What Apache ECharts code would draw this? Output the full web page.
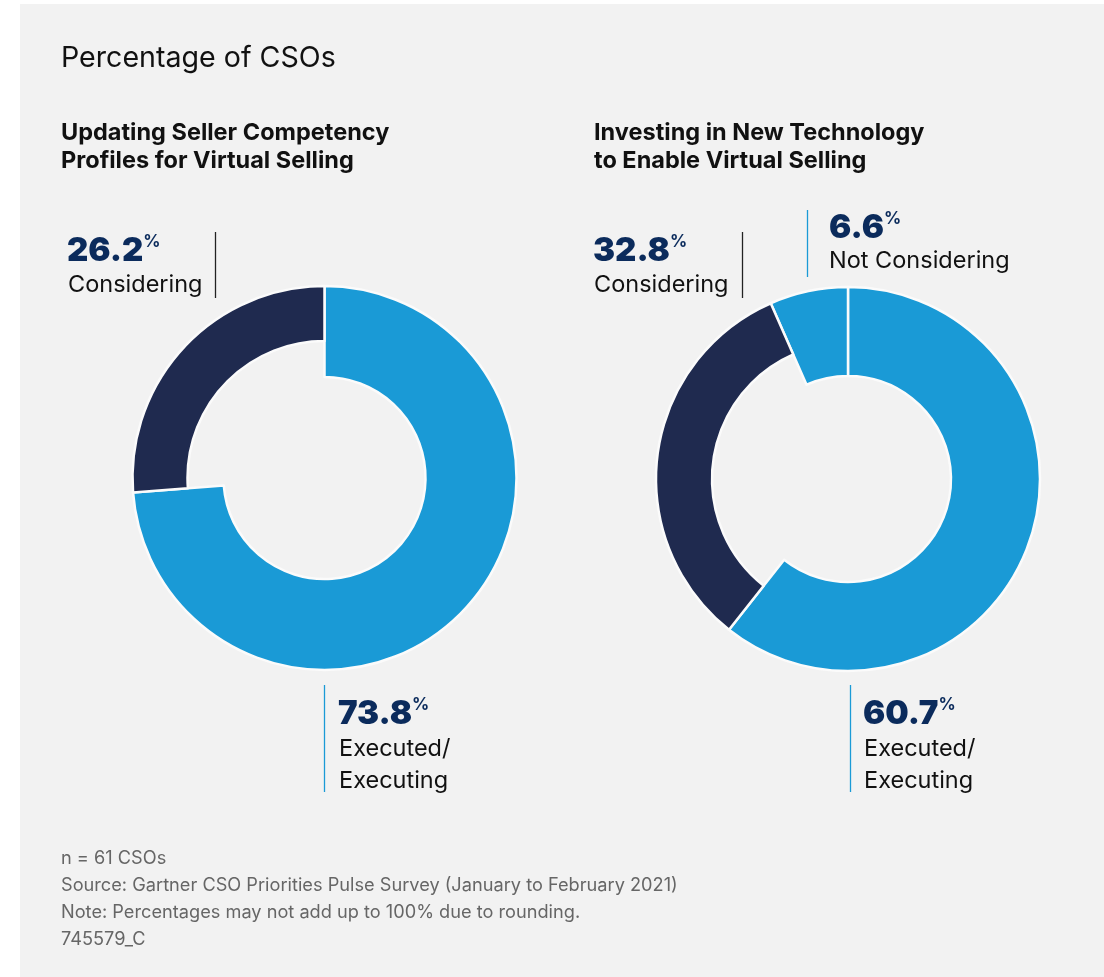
<!DOCTYPE html>
<html>
<head>
<meta charset="utf-8">
<script src="https://cdn.jsdelivr.net/npm/echarts@6/dist/echarts.min.js"></script>
<style>
html,body{margin:0;padding:0;background:#ffffff;}
#panel{position:absolute;left:20px;top:4px;width:1084px;height:973px;background:#f2f2f2;}
#chart{position:absolute;left:0;top:0;width:1104px;height:977px;}
</style>
</head>
<body>
<div id="panel"></div>
<div id="chart"></div>
<script>
// ---- data ----
const chartTitle = 'Percentage of CSOs';
const leftTitle = ['Updating Seller Competency', 'Profiles for Virtual Selling'];
const rightTitle = ['Investing in New Technology', 'to Enable Virtual Selling'];
const leftCategories = ['Executed/ Executing', 'Considering'];
const leftValues = [73.8, 26.2];
const rightCategories = ['Executed/ Executing', 'Considering', 'Not Considering'];
const rightValues = [60.7, 32.8, 6.6];
const footerLines = [
  'n = 61 CSOs',
  'Source: Gartner CSO Priorities Pulse Survey (January to February 2021)',
  'Note: Percentages may not add up to 100% due to rounding.',
  '745579_C'
];

const BLUE = '#1a9ad6';
const NAVY = '#1f2a4f';
const NUM = '#0b2b5c';
const FONT = 'Inter, "Noto Sans", sans-serif';
const GAP = '#fbfbfb';

function ringSeries(center, cats, vals, inner, show) {
  return {
    type: 'pie',
    center: center,
    radius: [inner, 192],
    startAngle: 90,
    clockwise: true,
    silent: true,
    avoidLabelOverlap: false,
    label: {show: false},
    labelLine: {show: false},
    emphasis: {disabled: true},
    data: cats.map((c, i) => ({
      name: c,
      value: vals[i],
      itemStyle: show(c) ?
        {color: c === 'Considering' ? NAVY : BLUE, borderColor: GAP, borderWidth: 2.5} :
        {color: 'rgba(0,0,0,0)', borderWidth: 0}
    }))
  };
}

const isDark = c => c === 'Considering';
const isBlue = c => c !== 'Considering';

function numLabel(x, y, value) {
  return {
    type: 'text', left: x, top: y,
    style: {
      text: '{n|' + value.toFixed(1) + '}{p|%}',
      rich: {
        n: {font: '900 33px ' + FONT, fill: NUM, lineHeight: 36},
        p: {font: '700 17px ' + FONT, fill: NUM, verticalAlign: 'top', lineHeight: 36, padding: [0, 0, 14, 0]}
      }
    }
  };
}
function txt(x, y, s, font, fill) {
  return {type: 'text', left: x, top: y, style: {text: s, font: font, fill: fill}};
}
function vline(x, y1, y2, color) {
  return {type: 'line', shape: {x1: x, y1: y1, x2: x, y2: y2}, style: {stroke: color, lineWidth: 1.3}};
}

const labelFont = '400 23.5px ' + FONT;
const subFont = '700 23.5px ' + FONT;
const graphics = [
  txt(61, 44, chartTitle, '400 28.6px ' + FONT, '#111'),
  {type: 'text', left: 61, top: 119, style: {text: leftTitle[0] + '\n' + leftTitle[1], font: subFont, fill: '#111', lineHeight: 28}},
  {type: 'text', left: 594, top: 119, style: {text: rightTitle[0] + '\n' + rightTitle[1], font: subFont, fill: '#111', lineHeight: 28}},
  // left donut labels
  numLabel(67, 233, leftValues[1]),
  txt(68, 273, leftCategories[1], labelFont, '#111'),
  vline(215.5, 232, 298, '#222'),
  numLabel(338, 696, leftValues[0]),
  {type: 'text', left: 339, top: 733, style: {text: 'Executed/\nExecuting', font: labelFont, fill: '#111', lineHeight: 32}},
  vline(324.5, 685, 792, BLUE),
  // right donut labels
  numLabel(593, 233, rightValues[1]),
  txt(594, 273, rightCategories[1], labelFont, '#111'),
  vline(742.5, 232, 298, '#222'),
  numLabel(829, 210, rightValues[2]),
  txt(829, 249, rightCategories[2], labelFont, '#111'),
  vline(807.5, 210, 277, BLUE),
  numLabel(863, 696, rightValues[0]),
  {type: 'text', left: 864, top: 733, style: {text: 'Executed/\nExecuting', font: labelFont, fill: '#111', lineHeight: 32}},
  vline(850.5, 685, 792, BLUE),
  // footer
  {type: 'text', left: 61, top: 845, style: {text: footerLines.join('\n'), font: '400 18.2px ' + FONT, fill: '#666', lineHeight: 27}}
];

const chart = echarts.init(document.getElementById('chart'), null, {renderer: 'canvas'});
chart.setOption({
  backgroundColor: 'transparent',
  animation: false,
  series: [
    ringSeries([324.5, 478], leftCategories, leftValues, 101, isBlue),
    ringSeries([324.5, 478], leftCategories, leftValues, 137, isDark),
    ringSeries([848, 479], rightCategories, rightValues, 103, isBlue),
    ringSeries([848, 479], rightCategories, rightValues, 136, isDark)
  ],
  graphic: graphics
});
</script>
</body>
</html>
